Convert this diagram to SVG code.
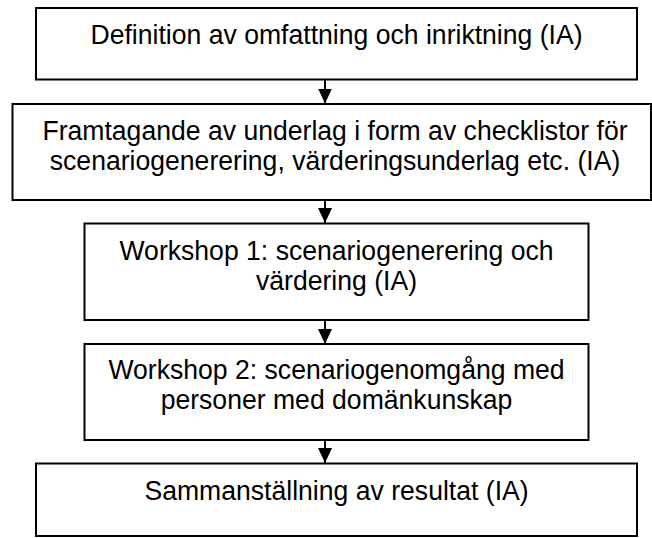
<svg xmlns="http://www.w3.org/2000/svg" width="652" height="538" viewBox="0 0 652 538">
<style>
.box{fill:#fff;stroke:#000;stroke-width:2}
.lbl{font-family:"Liberation Sans",Arial,Helvetica,sans-serif;font-size:28px;fill:#000;text-anchor:middle}
.con{stroke:#000;stroke-width:2;fill:none}
</style>
<defs>
<marker id="ah" markerUnits="userSpaceOnUse" markerWidth="15" markerHeight="14" refX="15" refY="7" orient="auto">
<path d="M0,0 L15,7 L0,14 z" fill="#000"/>
</marker>
</defs>
<rect width="652" height="538" fill="#fff"/>
<g id="connectors">
<line class="con" x1="325" y1="79.5" x2="325" y2="103.5" marker-end="url(#ah)"/>
<line class="con" x1="325" y1="200" x2="325" y2="223" marker-end="url(#ah)"/>
<line class="con" x1="325" y1="320" x2="325" y2="344" marker-end="url(#ah)"/>
<line class="con" x1="325" y1="440" x2="325" y2="463" marker-end="url(#ah)"/>
</g>
<g id="n1">
<rect class="box" x="36" y="8" width="601" height="71.5"/>
<text class="lbl" transform="translate(336.5,44) scale(0.95,1)">Definition av omfattning och inriktning (IA)</text>
</g>
<g id="n2">
<rect class="box" x="12.5" y="104" width="638.5" height="96"/>
<text class="lbl" transform="translate(335,140) scale(0.95,1)">Framtagande av underlag i form av checklistor för</text>
<text class="lbl" transform="translate(335,170) scale(0.95,1)">scenariogenerering, värderingsunderlag etc. (IA)</text>
</g>
<g id="n3">
<rect class="box" x="84.5" y="223.5" width="504" height="96.5"/>
<text class="lbl" transform="translate(336.5,260) scale(0.95,1)">Workshop 1: scenariogenerering och</text>
<text class="lbl" transform="translate(336.5,290) scale(0.95,1)">värdering (IA)</text>
</g>
<g id="n4">
<rect class="box" x="84.5" y="344" width="504" height="96"/>
<text class="lbl" transform="translate(336.5,379) scale(0.95,1)">Workshop 2: scenariogenomgång med</text>
<text class="lbl" transform="translate(336.5,409) scale(0.95,1)">personer med domänkunskap</text>
</g>
<g id="n5">
<rect class="box" x="36" y="463.5" width="601" height="72.5"/>
<text class="lbl" transform="translate(336.5,500) scale(0.95,1)">Sammanställning av resultat (IA)</text>
</g>
</svg>
